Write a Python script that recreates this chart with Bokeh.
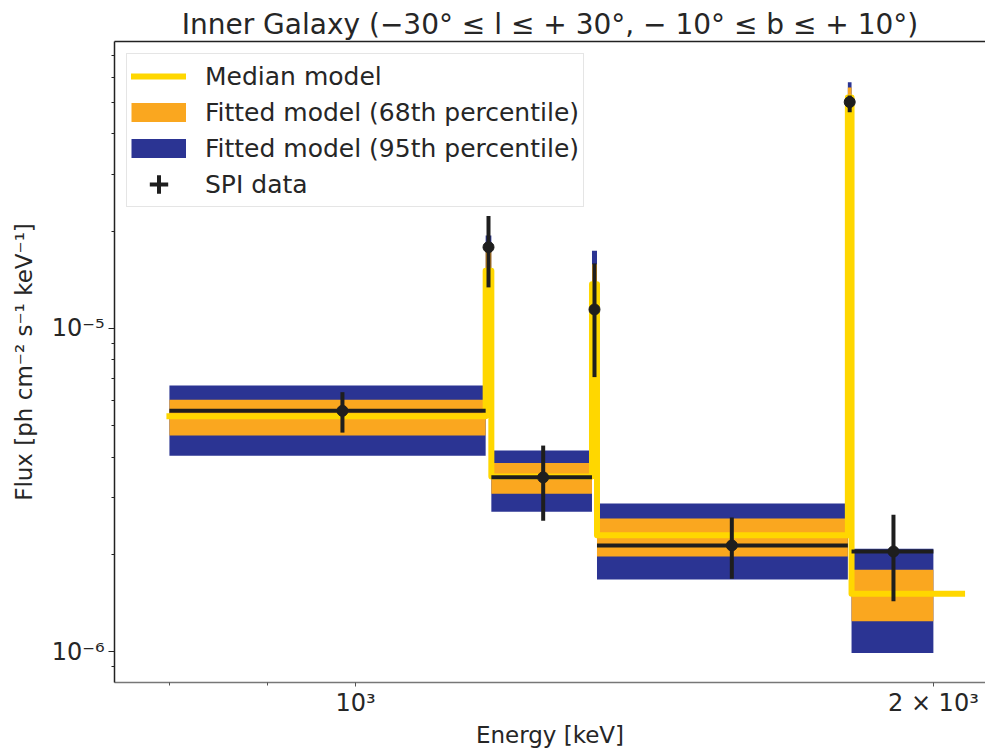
from bokeh.plotting import figure
from bokeh.models import (FixedTicker, CustomJSTickFormatter, LogAxis, Legend,
                          LegendItem, Range1d)
from bokeh.embed import file_html
from bokeh.resources import INLINE

NaN = float("nan")

# Energy bins [keV]: continuum bins interleaved with narrow line bins (1173, 1332, 1809 keV)
bin_lo = [800, 1169, 1177, 1328, 1336, 1805, 1813]
bin_hi = [1169, 1177, 1328, 1336, 1805, 1813, 2000]
median_end = 2070  # energy where the drawn median model ends

# SPI data [ph cm^-2 s^-1 keV^-1]
spi_flux = [5.56e-6, 1.785e-5, 3.46e-6, 1.145e-5, 2.13e-6, 5.02e-5, 2.04e-6]
spi_err_lo = [4.76e-6, 1.34e-5, 2.54e-6, 7.07e-6, 1.68e-6, 4.67e-5, 1.43e-6]
spi_err_hi = [6.35e-6, 2.23e-5, 4.34e-6, 1.59e-5, 2.60e-6, 5.26e-5, 2.65e-6]

# Fitted model
model_median = [5.35e-6, 1.51e-5, 3.48e-6, 1.37e-5, 2.29e-6, 5.19e-5, 1.51e-6]
model_lo68 = [4.66e-6, 1.25e-5, 3.08e-6, 1.19e-5, 1.97e-6, 4.85e-5, 1.24e-6]
model_hi68 = [6.02e-6, 1.83e-5, 3.83e-6, 1.58e-5, 2.58e-6, 5.57e-5, 1.79e-6]
model_lo95 = [4.04e-6, 1.18e-5, 2.71e-6, 1.07e-5, 1.67e-6, 4.60e-5, 0.99e-6]
model_hi95 = [6.66e-6, 1.94e-5, 4.19e-6, 1.74e-5, 2.87e-6, 5.78e-5, 2.08e-6]

# Ticks
x_ticks = [1000, 2000]
x_minor_ticks = [800, 900]
y_ticks = [1e-6, 1e-5]
y_minor_ticks = [8e-7, 9e-7, 2e-6, 3e-6, 4e-6, 5e-6, 6e-6, 7e-6, 8e-6, 9e-6,
                 2e-5, 3e-5, 4e-5, 5e-5, 6e-5, 7e-5]

BLUE = "#2b3493"
ORANGE = "#faa71f"
YELLOW = "#ffd700"
BLACK = "#1e1e1e"
TXT = "#262626"
FONT = "DejaVu Sans"

p = figure(width=985, height=753, x_axis_type="log", y_axis_type="log",
           x_range=Range1d(749, 2129), y_range=Range1d(8.02e-7, 7.73e-5),
           output_backend="svg", toolbar_location=None,
           min_border_left=114, min_border_right=0, min_border_top=41,
           min_border_bottom=71)
p.outline_line_color = None
p.xgrid.visible = False
p.ygrid.visible = False
p.background_fill_color = "white"

# Bands
p.quad(left=bin_lo, right=bin_hi, bottom=model_lo95, top=model_hi95,
       fill_color=BLUE, line_color=None)
p.quad(left=bin_lo, right=bin_hi, bottom=model_lo68, top=model_hi68,
       fill_color=ORANGE, line_color=None)

# Median model step
step_x = bin_lo + [median_end]
step_y = model_median + [model_median[-1]]
med = p.step(x=step_x, y=step_y, mode="after", line_color=YELLOW, line_width=6,
             line_join="round", line_cap="square")

# SPI data
x_c = [(a + b) / 2 for a, b in zip(bin_lo, bin_hi)]
p.segment(x0=x_c, y0=spi_err_lo, x1=x_c, y1=spi_err_hi, line_color=BLACK, line_width=4)
p.segment(x0=bin_lo, y0=spi_flux, x1=bin_hi, y1=spi_flux, line_color=BLACK, line_width=4)
p.scatter(x=x_c, y=spi_flux, marker="circle", size=11, fill_color=BLACK, line_color=BLACK)

# Legend-only glyphs (no visible data)
leg68 = p.line(x=[NaN], y=[NaN], line_color=ORANGE, line_width=19, line_cap="butt")
leg95 = p.line(x=[NaN], y=[NaN], line_color=BLUE, line_width=19, line_cap="butt")
leg_cross = p.scatter(x=[NaN], y=[NaN], marker="cross", line_color=BLACK, line_width=4,
                      line_cap="square")

legend = Legend(items=[
    LegendItem(label="Median model", renderers=[med]),
    LegendItem(label="Fitted model (68th percentile)", renderers=[leg68]),
    LegendItem(label="Fitted model (95th percentile)", renderers=[leg95]),
    LegendItem(label="SPI data", renderers=[leg_cross]),
], location="top_left")
legend.margin = 12
legend.padding = 4
legend.spacing = 0
legend.glyph_width = 55
legend.glyph_height = 36
legend.label_standoff = 19
legend.label_text_font = FONT
legend.label_text_font_size = "25px"
legend.label_text_color = TXT
legend.border_line_color = "#cccccc"
legend.border_line_width = 1
legend.background_fill_alpha = 0.85
p.add_layout(legend)

sup_code = """
const sup = {"-": "\\u207b", "0": "\\u2070", "1": "\\u00b9", "2": "\\u00b2", "3": "\\u00b3",
             "4": "\\u2074", "5": "\\u2075", "6": "\\u2076", "7": "\\u2077", "8": "\\u2078", "9": "\\u2079"};
const e = Math.floor(Math.log10(tick) + 1e-9);
const m = Math.round(tick / Math.pow(10, e));
const s = String(e).split("").map(c => sup[c]).join("");
return (m === 1 ? "" : m + " \\u00d7 ") + "10" + s;
"""

# X axis
xa = p.xaxis[0]
xa.ticker = FixedTicker(ticks=x_ticks, minor_ticks=x_minor_ticks)
xa.formatter = CustomJSTickFormatter(code=sup_code)
xa.axis_label = "Energy [keV]"
xa.axis_line_color = "#777777"
xa.axis_line_width = 1.5
xa.major_tick_line_color = "#555555"
xa.minor_tick_line_color = "#555555"
xa.major_tick_out = 4
xa.major_tick_in = 0
xa.minor_tick_out = 3
xa.minor_tick_in = 0
xa.major_label_text_font = FONT
xa.major_label_text_font_size = "24px"
xa.major_label_text_color = TXT
xa.major_label_standoff = 2
xa.axis_label_text_font = FONT
xa.axis_label_text_font_size = "23px"
xa.axis_label_text_font_style = "normal"
xa.axis_label_text_color = TXT
xa.axis_label_standoff = 2

# Y axis
ya = p.yaxis[0]
ya.ticker = FixedTicker(ticks=y_ticks, minor_ticks=y_minor_ticks)
ya.formatter = CustomJSTickFormatter(code=sup_code)
ya.axis_label = "Flux [ph cm\u207b\u00b2 s\u207b\u00b9 keV\u207b\u00b9]"
ya.axis_line_color = "#222222"
ya.axis_line_width = 1.5
ya.major_tick_line_color = "#222222"
ya.minor_tick_line_color = "#222222"
ya.major_tick_out = 6
ya.major_tick_in = 0
ya.minor_tick_out = 3
ya.minor_tick_in = 0
ya.major_label_text_font = FONT
ya.major_label_text_font_size = "24px"
ya.major_label_text_color = TXT
ya.major_label_standoff = 4
ya.axis_label_text_font = FONT
ya.axis_label_text_font_size = "23px"
ya.axis_label_text_font_style = "normal"
ya.axis_label_text_color = TXT
ya.axis_label_standoff = 12

# Top spine
top = LogAxis(ticker=FixedTicker(ticks=[], minor_ticks=[]), axis_line_color="#222222",
              axis_line_width=1.5, major_tick_line_color=None, minor_tick_line_color=None)
p.add_layout(top, "above")

p.title.text = "Inner Galaxy (\u221230\u00b0 \u2264 l \u2264 + 30\u00b0, \u2212 10\u00b0 \u2264 b \u2264 + 10\u00b0)"
p.title.align = "center"
p.title.text_font = FONT
p.title.text_font_size = "28px"
p.title.text_font_style = "normal"
p.title.text_color = TXT
p.title.standoff = 2
p.title.offset = 0

open("out.html", "w").write(file_html(p, INLINE))
